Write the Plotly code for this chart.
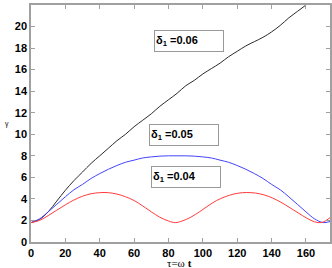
import plotly.graph_objects as go

tau_black = [0,5,10,15,20,25,30,35,40,45,50,55,60,65,70,75,80,85,90,95,100,105,110,115,120,125,130,135,140,145,150,155,160,165,170,174]
gamma_black = [1.8,2.1,2.8,3.8,4.8,5.7,6.5,7.3,8.0,8.7,9.4,10.0,10.7,11.3,11.9,12.6,13.2,13.8,14.5,15.0,15.6,16.1,16.6,17.2,17.7,18.2,18.6,19.0,19.5,20.1,20.8,21.4,22.0,22.6,23.2,23.7]

tau_blue = [0,5,10,15,20,25,30,35,40,45,50,55,60,65,70,75,80,85,90,95,100,105,110,115,120,125,130,135,140,145,150,155,160,165,170,174]
gamma_blue = [1.8,2.15,2.8,3.5,4.2,4.85,5.35,5.9,6.35,6.75,7.1,7.4,7.6,7.8,7.9,7.97,8.0,8.0,8.0,7.97,7.9,7.8,7.6,7.4,7.1,6.75,6.35,5.9,5.35,4.85,4.2,3.5,2.8,2.15,1.8,1.9]

tau_red = [0,5,10,15,20,25,30,35,40,45,50,55,60,65,70,75,80,84,88,93,98,103,108,113,118,123,128,133,138,143,148,153,158,163,167,170,174]
gamma_red = [1.8,2.0,2.45,2.95,3.45,3.9,4.25,4.48,4.58,4.58,4.45,4.2,3.85,3.35,2.8,2.3,1.95,1.8,1.95,2.3,2.8,3.35,3.85,4.2,4.45,4.58,4.58,4.48,4.25,3.9,3.45,2.95,2.45,2.0,1.8,1.85,2.25]

labels = ["δ<sub>1</sub> =0.06", "δ<sub>1</sub> =0.05", "δ<sub>1</sub> =0.04"]
label_x = [92.2, 89.0, 90.3]
label_y = [18.66, 9.93, 6.06]

x_title = "τ=ω <b>t</b>"
y_title = "γ"

fig = go.Figure()
fig.add_trace(go.Scatter(x=tau_black, y=gamma_black, mode="lines", line=dict(color="#2a2a2a", width=1, shape="spline")))
fig.add_trace(go.Scatter(x=tau_blue, y=gamma_blue, mode="lines", line=dict(color="#4444ff", width=1, shape="spline")))
fig.add_trace(go.Scatter(x=tau_red, y=gamma_red, mode="lines", line=dict(color="#ff3b3b", width=1, shape="spline")))

for t, xv, yv in zip(labels, label_x, label_y):
    fig.add_annotation(x=xv, y=yv, xref="x", yref="y", text=t, showarrow=False,
                       font=dict(family="Liberation Sans", size=11, color="black", weight="bold"),
                       align="left", width=66, height=18, bgcolor="white",
                       bordercolor="#999999", borderwidth=1, borderpad=1)

fig.add_annotation(x=0.498, y=-0.09, xref="paper", yref="paper", text=x_title, showarrow=False,
                   xanchor="center", yanchor="middle",
                   font=dict(family="Liberation Serif", size=11, color="black"))
fig.add_annotation(x=-0.08, y=0.498, xref="paper", yref="paper", text=y_title, showarrow=False,
                   xanchor="center", yanchor="middle",
                   font=dict(family="Liberation Sans", size=7, color="black"))

axis_common = dict(showgrid=False, zeroline=False, showline=True, linecolor="#a0a0a0", linewidth=1.5,
                   mirror="ticks", ticks="inside", ticklen=4, tickcolor="#a0a0a0", automargin=False,
                   tickfont=dict(family="Liberation Sans", size=11, color="black", weight="bold"))

fig.update_xaxes(range=[0, 174], tickvals=[0,20,40,60,80,100,120,140,160], **axis_common)
fig.update_yaxes(range=[0, 22], tickvals=list(range(0, 23, 2)), **axis_common)

fig.update_layout(width=332, height=268, margin=dict(l=31, r=2, t=5, b=26),
                  paper_bgcolor="white", plot_bgcolor="white", showlegend=False)

fig.write_html("out.html", config={"displayModeBar": False},
               post_script="document.body.style.margin='0';document.body.style.overflow='hidden';")
